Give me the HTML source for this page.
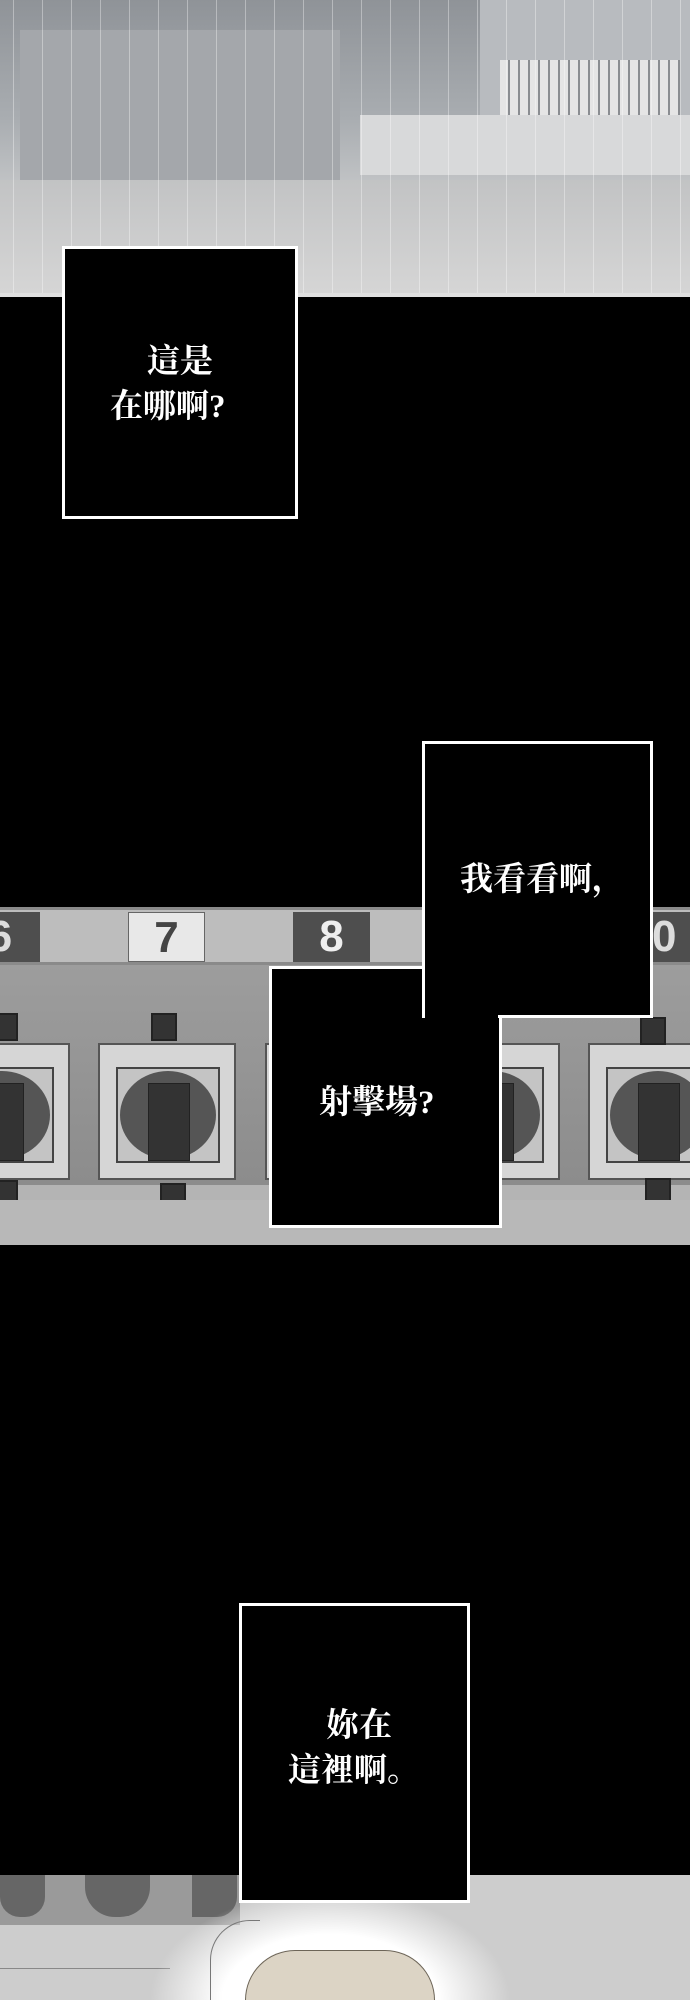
<!DOCTYPE html>
<html style="width:690px;height:2000px;overflow:hidden"><head><meta charset="utf-8"><style>
*{margin:0;padding:0;box-sizing:border-box}
body{width:690px;height:2000px;background:#000;overflow:hidden;font-family:"Liberation Serif","Noto Serif CJK SC","Noto Sans CJK TC",serif}
#w{position:relative;width:690px;height:2000px;overflow:hidden;background:#000}
.a{position:absolute}
.box{position:absolute;background:#000;border:3px solid #fff}
.t{position:absolute;color:#fff;font-weight:bold;font-size:33px;line-height:1;white-space:nowrap}
.tile{position:absolute;top:912px;height:50px;font-family:"Liberation Sans",sans-serif;font-weight:bold;font-size:44px;text-align:center;line-height:50px}
.tg{position:absolute;top:1043px;width:138px;height:137px;background:#d6d6d6;border:2px solid #555}
.tg i{position:absolute;left:16px;top:22px;width:104px;height:96px;border:2px solid #444;background:#c4c4c4}
.tg b{position:absolute;left:20px;top:26px;width:96px;height:88px;border-radius:50%;background:#555}
.tg u{position:absolute;left:48px;top:38px;width:42px;height:78px;background:#333;border:1px solid #222}
.dot{position:absolute;width:26px;height:28px;background:#333;border:2px solid #222}
</style></head><body><div id="w">
<div class="a" style="left:0;top:0;width:690px;height:297px;background:linear-gradient(180deg,#8f9398 0%,#a9adb1 40%,#cfd0d1 75%,#dcdcdc 100%)"></div>
<div class="a" style="left:480px;top:0;width:210px;height:125px;background:#b8bbbf"></div>
<div class="a" style="left:360px;top:115px;width:330px;height:60px;background:#d8d9da"></div>
<div class="a" style="left:500px;top:60px;width:180px;height:55px;background:repeating-linear-gradient(90deg,#e5e5e5 0 8px,#8a8d91 8px 10px)"></div>
<div class="a" style="left:20px;top:30px;width:320px;height:150px;background:#a4a7ab"></div>
<div class="a" style="left:0;top:180px;width:690px;height:117px;background:linear-gradient(180deg,#c2c3c4,#d6d6d6)"></div>
<div class="a" style="left:0;top:0;width:690px;height:297px;background:repeating-linear-gradient(90deg,rgba(255,255,255,0) 0 13px,rgba(255,255,255,.35) 13px 14px,rgba(255,255,255,0) 14px 29px)"></div>
<div class="a" style="left:0;top:293px;width:690px;height:4px;background:#e0e0e0"></div>

<div class="box" style="left:62px;top:246px;width:236px;height:273px"></div>
<div class="t" style="left:147px;top:346px">這是</div>
<div class="t" style="left:110px;top:391px">在哪啊?</div>

<div class="a" style="left:0;top:907px;width:690px;height:338px;background:#b4b4b4"></div>
<div class="a" style="left:0;top:907px;width:690px;height:58px;background:#bdbdbd;border-top:3px solid #8a8a8a;border-bottom:3px solid #8a8a8a"></div>
<div class="a" style="left:0;top:965px;width:690px;height:220px;background:linear-gradient(180deg,#9d9d9d,#8c8c8c)"></div>
<div class="tile" style="left:-40px;width:80px;background:#4e4e4e;color:#ddd">6</div>
<div class="tile" style="left:128px;width:77px;background:#e8e8e8;color:#444;border:1px solid #666">7</div>
<div class="tile" style="left:293px;width:77px;background:#4e4e4e;color:#eee">8</div>
<div class="tile" style="left:650px;width:77px;background:#4e4e4e;color:#ddd;text-align:left;padding-left:2px">0</div>
<div class="tg" style="left:-68px"><i></i><b></b><u></u></div>
<div class="tg" style="left:98px"><i></i><b></b><u></u></div>
<div class="tg" style="left:265px"><i></i><b></b><u></u></div>
<div class="tg" style="left:422px"><i></i><b></b><u></u></div>
<div class="tg" style="left:588px"><i></i><b></b><u></u></div>
<div class="dot" style="left:-8px;top:1013px"></div>
<div class="dot" style="left:151px;top:1013px"></div>
<div class="dot" style="left:640px;top:1017px"></div>
<div class="dot" style="left:-8px;top:1180px"></div>
<div class="dot" style="left:160px;top:1183px"></div>
<div class="dot" style="left:645px;top:1178px"></div>
<div class="a" style="left:0;top:1200px;width:690px;height:45px;background:#b8b8b8"></div>

<div class="box" style="left:269px;top:966px;width:233px;height:262px"></div>
<div class="box" style="left:422px;top:741px;width:231px;height:277px"></div>
<div class="a" style="left:425px;top:1010px;width:73px;height:12px;background:#000"></div>
<div class="t" style="left:460px;top:864px">我看看啊，</div>
<div class="t" style="left:319px;top:1087px">射擊場?</div>

<div class="a" style="left:0;top:1875px;width:690px;height:125px;background:#cdcdcd"></div>
<div class="a" style="left:0;top:1875px;width:240px;height:50px;background:#9a9a9a"></div>
<div class="a" style="left:0;top:1875px;width:45px;height:42px;background:#666;border-radius:0 0 20px 20px"></div>
<div class="a" style="left:85px;top:1875px;width:65px;height:42px;background:#666;border-radius:0 0 30px 30px"></div>
<div class="a" style="left:192px;top:1875px;width:45px;height:42px;background:#666;border-radius:0 0 20px 0"></div>
<div class="a" style="left:0;top:1968px;width:170px;height:1px;background:#888"></div>
<div class="a" style="left:150px;top:1890px;width:360px;height:110px;border-radius:180px 180px 0 0;background:radial-gradient(ellipse 50% 100% at 50% 100%,#fff 60%,rgba(255,255,255,0) 100%)"></div>
<div class="a" style="left:245px;top:1950px;width:190px;height:50px;border-radius:95px 95px 0 0;background:#dcd4c5;border:1px solid #6d6558;border-bottom:none"></div>
<div class="a" style="left:210px;top:1920px;width:50px;height:80px;border-left:1px solid #777;border-top:1px solid #777;border-radius:40px 0 0 0"></div>
<div class="box" style="left:239px;top:1603px;width:231px;height:300px"></div>
<div class="t" style="left:326px;top:1710px">妳在</div>
<div class="t" style="left:288px;top:1755px">這裡啊。</div>
</div></body></html>
